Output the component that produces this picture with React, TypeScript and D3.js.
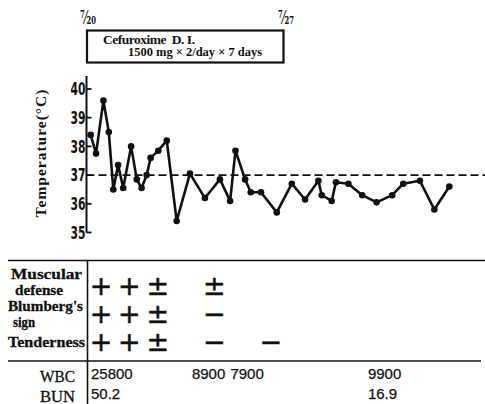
import React from "react";
import * as d3 from "d3";

// Temperature course (day offset from 7/20, °C)
const tempDays = [0.13, 0.32, 0.58, 0.77, 0.93, 1.1, 1.28, 1.56, 1.76, 1.93, 2.11, 2.25, 2.52, 2.82, 3.17, 3.64, 4.17, 4.7, 5.06, 5.25, 5.59, 5.79, 6.15, 6.71, 7.24, 7.71, 8.18, 8.3, 8.65, 8.8, 9.24, 9.73, 10.24, 10.79, 11.18, 11.77, 12.28, 12.81];
const temps = [38.4, 37.75, 39.6, 38.5, 36.5, 37.35, 36.55, 38.0, 36.85, 36.55, 37.0, 37.6, 37.85, 38.2, 35.4, 37.05, 36.2, 36.85, 36.1, 37.85, 36.85, 36.4, 36.4, 35.7, 36.7, 36.15, 36.8, 36.3, 36.1, 36.75, 36.7, 36.3, 36.05, 36.3, 36.7, 36.8, 35.8, 36.6];
const yTicks = [35, 36, 37, 38, 39, 40];
const normalTemp = 37;

const dateLabels = ["⁷⁄₂₀", "⁷⁄₂₇"];
const dateOffsets = [0, 7];
const therapyLine1 = "Cefuroxime  D. I.";
const therapyLine2 = "1500 mg × 2/day × 7 days";

// Physical signs
const signDays = [0.5, 1.5, 2.5, 4.5, 6.5];
const signLabels = [["Muscular", "defense"], ["Blumberg's", "sign"], ["Tenderness"]];
const muscularDefense = ["+", "+", "±", "±", ""];
const blumbergSign = ["+", "+", "±", "−", ""];
const tenderness = ["+", "+", "±", "−", "−"];
const signRows = [muscularDefense, blumbergSign, tenderness];

// Labs
const wbcDays = [0.14, 3.71, 5.07, 9.93];
const wbcValues = ["25800", "8900", "7900", "9900"];
const bunDays = [0.14, 9.93];
const bunValues = ["50.2", "16.9"];

const W = 485;
const H = 404;
const ink = "#111";
const serif = "'Liberation Serif', 'Times New Roman', serif";
const narrow = "'Liberation Sans Narrow', 'DejaVu Sans Condensed', 'Liberation Sans', sans-serif";
const sans = "'Liberation Sans', Arial, sans-serif";

export default function App() {
  const x = d3.scaleLinear().domain([0, 7]).range([87, 285]);
  const y = d3.scaleLinear().domain([35, 40]).range([232.5, 89]);
  const line = d3
    .line<number>()
    .x((_, i) => x(tempDays[i]))
    .y((d) => y(d));
  const axisX = 86.5;

  const signRowY = [285, 313, 341];
  const labelLineY = [[279, 294.5], [311, 326.5], [346.5]];
  const labelIndent = [[11, 15], [8, 13], [8]];
  const labelLen = [[71, 48], [75, 22], [77]];

  return (
    <svg width={W} height={H} style={{ position: "absolute", left: 0, top: 0, background: "#fff" }}>
      {/* dates */}
      {dateOffsets.map((d, i) => (
        <text
          key={i}
          x={x(d) + 1}
          y={24}
          textAnchor="middle"
          fill={ink}
          fontFamily="'DejaVu Serif', serif"
          fontWeight="bold"
          fontSize={19}
          textLength={16}
          lengthAdjust="spacingAndGlyphs"
        >
          {dateLabels[i]}
        </text>
      ))}
      {/* therapy box */}
      <rect x={x(0)} y={30.5} width={x(7) - x(0) - 1.5} height={32} fill="none" stroke={ink} strokeWidth={2.2} />
      <text x={103} y={44} fontSize={13.5} fontFamily={serif} fontWeight="bold" fill={ink} textLength={92} lengthAdjust="spacing" style={{ whiteSpace: "pre" }}>
        {therapyLine1}
      </text>
      <text x={128} y={56} fontSize={12.5} fontFamily={serif} fontWeight="bold" fill={ink} textLength={134} lengthAdjust="spacingAndGlyphs">
        {therapyLine2}
      </text>

      {/* y axis */}
      <line x1={axisX} x2={axisX} y1={76} y2={y(35)} stroke={ink} strokeWidth={2} />
      {yTicks.map((t) => (
        <g key={t}>
          <line x1={axisX} x2={axisX + 5} y1={y(t)} y2={y(t)} stroke={ink} strokeWidth={1.8} />
          <text
            x={axisX - 16}
            y={y(t)}
            dy="0.36em"
            fontSize={17}
            fontFamily={narrow}
            fontWeight="bold"
            fill={ink}
            textLength={15}
            lengthAdjust="spacingAndGlyphs"
          >
            {t}
          </text>
        </g>
      ))}
      <text
        transform={`translate(45.5,153) rotate(-90)`}
        textAnchor="middle"
        fontSize={15.5}
        fontFamily={serif}
        fontWeight="bold"
        letterSpacing={1}
        fill={ink}
      >
        Temperature(°C)
      </text>

      {/* normal line */}
      <line x1={axisX} x2={W} y1={y(normalTemp)} y2={y(normalTemp)} stroke={ink} strokeWidth={1.8} strokeDasharray="8,4" />

      {/* temperature */}
      <path d={line(temps) || ""} fill="none" stroke={ink} strokeWidth={2.6} strokeLinejoin="round" />
      {temps.map((t, i) => (
        <circle key={i} cx={x(tempDays[i])} cy={y(t)} r={3.3} fill={ink} />
      ))}

      {/* table lines */}
      <line x1={8} x2={W} y1={260.5} y2={260.5} stroke={ink} strokeWidth={1.6} />
      <line x1={8} x2={481} y1={361} y2={361} stroke={ink} strokeWidth={1.6} />
      <line x1={87.5} x2={87.5} y1={260.5} y2={H} stroke={ink} strokeWidth={1.6} />

      {/* sign labels */}
      {signLabels.map((lines, r) =>
        lines.map((l, k) => (
          <text
            key={`${r}-${k}`}
            x={labelIndent[r][k]}
            y={labelLineY[r][k]}
            fontSize={14}
            fontFamily={serif}
            fontWeight="bold"
            fill={ink}
            stroke={ink}
            strokeWidth={0.3}
            textLength={labelLen[r][k]}
            lengthAdjust="spacingAndGlyphs"
          >
            {l}
          </text>
        ))
      )}
      {signRows.map((row, r) =>
        row.map((s, c) =>
          s ? (
            <text
              key={`${r}-${c}`}
              x={x(signDays[c])}
              y={signRowY[r]}
              textAnchor="middle"
              dominantBaseline="central"
              fontSize={27}
              fontFamily="'DejaVu Sans', sans-serif"
              fill={ink}
              stroke={ink}
              strokeWidth={0.5}
            >
              {s}
            </text>
          ) : null
        )
      )}

      {/* labs */}
      <text x={75} y={381.5} textAnchor="end" fontSize={16.5} fontFamily={serif} fill={ink} stroke={ink} strokeWidth={0.3} textLength={35} lengthAdjust="spacingAndGlyphs">WBC</text>
      <text x={75} y={401.5} textAnchor="end" fontSize={16.5} fontFamily={serif} fill={ink} stroke={ink} strokeWidth={0.3} textLength={35} lengthAdjust="spacingAndGlyphs">BUN</text>
      {wbcValues.map((v, i) => (
        <text key={v} x={x(wbcDays[i])} y={379} fontSize={15} fontFamily={sans} fill={ink} stroke={ink} strokeWidth={0.25}>{v}</text>
      ))}
      {bunValues.map((v, i) => (
        <text key={v} x={x(bunDays[i])} y={399} fontSize={15} fontFamily={sans} fill={ink} stroke={ink} strokeWidth={0.25}>{v}</text>
      ))}
    </svg>
  );
}
